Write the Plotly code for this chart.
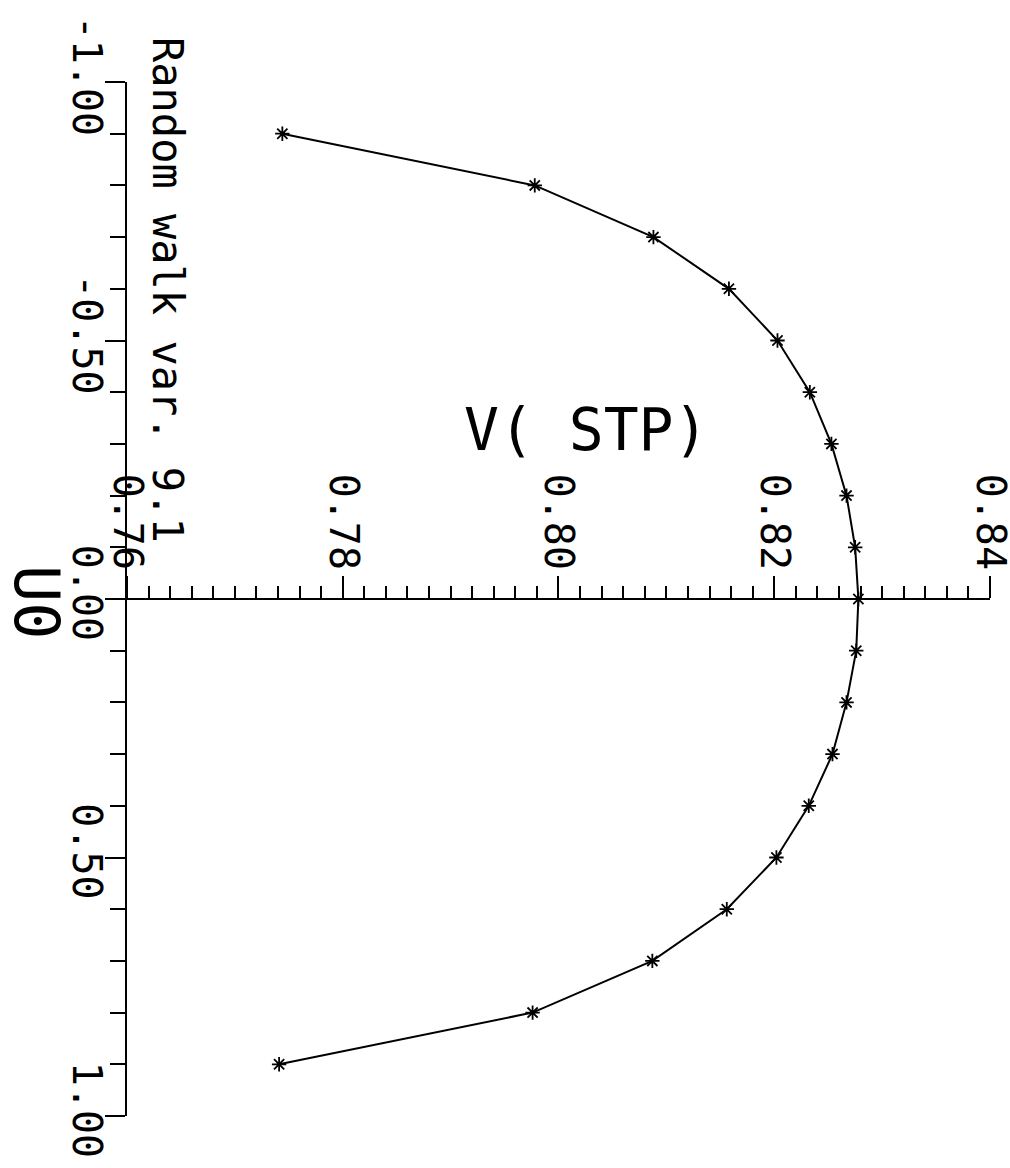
import plotly.graph_objects as go

# Swept parameter U0 and the resulting V(STP) response
u0 = [-0.9, -0.8, -0.7, -0.6, -0.5, -0.4, -0.3, -0.2, -0.1, 0.0,
      0.1, 0.2, 0.3, 0.4, 0.5, 0.6, 0.7, 0.8, 0.9]
v_stp = [0.7744, 0.7978, 0.8088, 0.8158, 0.8203, 0.8233, 0.8253, 0.8267, 0.8275, 0.8278,
         0.8276, 0.8267, 0.8254, 0.8232, 0.8202, 0.8156, 0.8087, 0.7976, 0.7741]

v_ticks = [0.76, 0.78, 0.80, 0.82, 0.84]
v_ticktext = ["0.76", "0.78", "0.80", "0.82", "0.84"]
u_ticks = [-1.0, -0.5, 0.0, 0.5, 1.0]
u_ticktext = ["-1.00", "-0.50", "0.00", "0.50", "1.00"]

v_range = [0.76, 0.84]
u_range = [1.0, -1.0]   # reversed: -1 at the top

FONT = "DejaVu Sans Mono"
W, H = 1010, 1168
ML, MR, MT, MB = 127, 20, 82, 52

fig = go.Figure()
fig.add_trace(go.Scatter(
    x=v_stp, y=u0, mode="lines+markers",
    line=dict(color="black", width=2),
    marker=dict(symbol="asterisk-open", size=12, color="black",
                line=dict(color="black", width=1.8)),
    showlegend=False,
))

axis_font = dict(family=FONT, size=40, color="black")

fig.update_layout(
    width=W, height=H,
    margin=dict(l=ML, r=MR, t=MT, b=MB, pad=0, autoexpand=False),
    paper_bgcolor="white", plot_bgcolor="white",
    xaxis=dict(
        range=[v_range[0], v_range[1] + 1e-6], anchor="free", position=0.5, side="top",
        automargin=False,
        showgrid=False, zeroline=False,
        showline=True, linecolor="black", linewidth=2,
        ticks="outside", ticklen=22, tickwidth=2, tickcolor="black",
        tickmode="array", tickvals=v_ticks, ticktext=v_ticktext, tickangle=90,
        ticklabelstandoff=-8, ticklabeloverflow="allow",
        tickfont=axis_font,
        minor=dict(dtick=0.002, tick0=0.76, ticks="outside", ticklen=12,
                   tickwidth=2, tickcolor="black", showgrid=False),
    ),
    yaxis=dict(
        range=u_range,
        automargin=False,
        showgrid=False, zeroline=False,
        showline=True, linecolor="black", linewidth=2,
        ticks="outside", ticklen=20, tickwidth=2, tickcolor="black",
        tickmode="array", tickvals=u_ticks, ticktext=u_ticktext, tickangle=90,
        ticklabelstandoff=-16, ticklabeloverflow="allow",
        tickfont=axis_font,
        minor=dict(dtick=0.1, tick0=-1.0, ticks="outside", ticklen=15,
                   tickwidth=2, tickcolor="black", showgrid=False),
    ),
)


def px_to_paper(px, py):
    return (px - ML) / (W - ML - MR), (H - MB - py) / (H - MT - MB)


texts = [
    ("Random walk var. 9.1", 168, 290, 42, 90),
    ("V( STP)", 586, 430, 58, 0),
    ("U0", 37, 602, 62, 90),
]
for txt, px, py, size, ang in texts:
    xp, yp = px_to_paper(px, py)
    fig.add_annotation(
        text=txt, x=xp, y=yp, xref="paper", yref="paper",
        xanchor="center", yanchor="middle", showarrow=False,
        textangle=ang, font=dict(family=FONT, size=size, color="black"),
    )

fig.write_html("out.html")
